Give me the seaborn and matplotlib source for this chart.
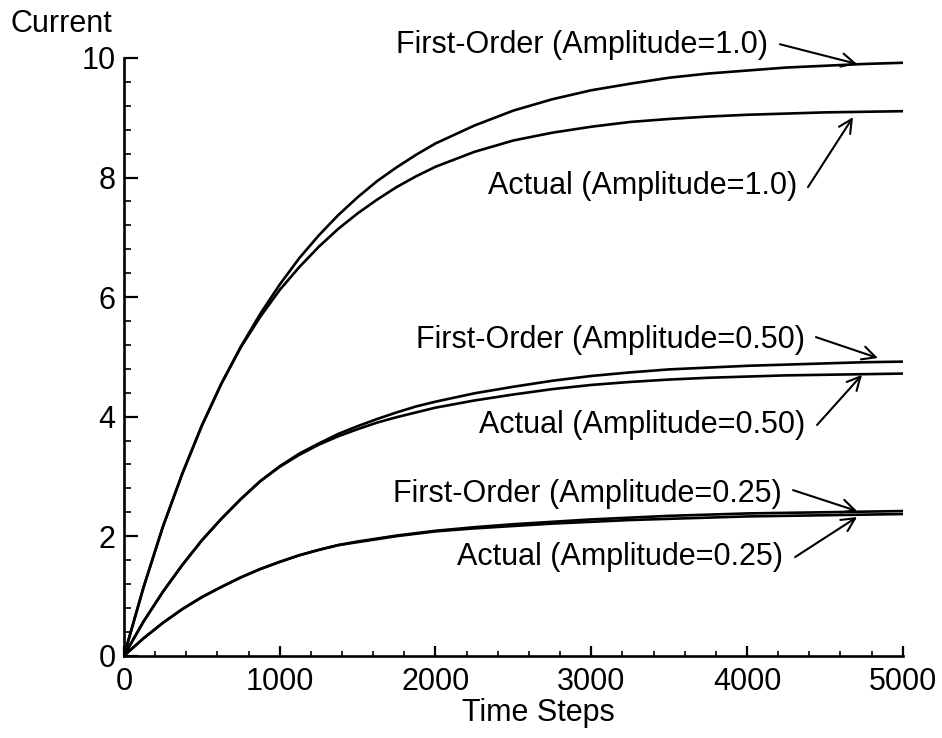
import numpy as np
import pandas as pd
import matplotlib
matplotlib.use("Agg")
import matplotlib.pyplot as plt
from matplotlib.ticker import MultipleLocator
import seaborn as sns

# Time axis and current responses for three drive amplitudes
time_steps = [0, 125, 250, 375, 500, 625, 750, 875, 1000, 1125, 1250, 1375,
              1500, 1625, 1750, 1875, 2000, 2250, 2500, 2750, 3000, 3250,
              3500, 3750, 4000, 4250, 4500, 4750, 5000]

first_order_100 = [0, 1.14, 2.16, 3.05, 3.85, 4.55, 5.17, 5.72, 6.21, 6.65,
                   7.03, 7.37, 7.67, 7.94, 8.17, 8.38, 8.57, 8.87, 9.12, 9.31,
                   9.46, 9.57, 9.67, 9.74, 9.79, 9.84, 9.87, 9.90, 9.92]
actual_100 = [0, 1.14, 2.16, 3.05, 3.85, 4.55, 5.16, 5.67, 6.12, 6.50,
              6.84, 7.14, 7.40, 7.63, 7.84, 8.02, 8.18, 8.43, 8.62, 8.75,
              8.85, 8.93, 8.98, 9.02, 9.05, 9.07, 9.09, 9.10, 9.11]
first_order_050 = [0, 0.57, 1.07, 1.52, 1.93, 2.29, 2.62, 2.92, 3.17, 3.38,
                   3.55, 3.71, 3.84, 3.96, 4.07, 4.17, 4.25, 4.39, 4.50, 4.60,
                   4.68, 4.74, 4.79, 4.82, 4.85, 4.87, 4.89, 4.91, 4.92]
actual_050 = [0, 0.57, 1.07, 1.52, 1.93, 2.29, 2.62, 2.92, 3.16, 3.36,
              3.53, 3.67, 3.79, 3.90, 3.99, 4.07, 4.15, 4.27, 4.37, 4.46,
              4.53, 4.58, 4.62, 4.65, 4.67, 4.69, 4.70, 4.71, 4.72]
first_order_025 = [0, 0.29, 0.55, 0.78, 0.98, 1.15, 1.31, 1.45, 1.57, 1.68,
                   1.77, 1.85, 1.91, 1.96, 2.01, 2.05, 2.09, 2.15, 2.20, 2.24,
                   2.28, 2.31, 2.34, 2.36, 2.38, 2.39, 2.40, 2.41, 2.42]
actual_025 = [0, 0.29, 0.55, 0.78, 0.98, 1.15, 1.31, 1.45, 1.57, 1.68,
              1.77, 1.85, 1.90, 1.95, 2.00, 2.04, 2.08, 2.13, 2.17, 2.21,
              2.24, 2.27, 2.29, 2.31, 2.33, 2.34, 2.35, 2.36, 2.37]

series_names = ["First-Order (Amplitude=1.0)", "Actual (Amplitude=1.0)",
                "First-Order (Amplitude=0.50)", "Actual (Amplitude=0.50)",
                "First-Order (Amplitude=0.25)", "Actual (Amplitude=0.25)"]
series_values = [first_order_100, actual_100, first_order_050, actual_050,
                 first_order_025, actual_025]

# Label placement: (text right edge x, text y, arrow tail, arrow head)
label_specs = [
    ((4135, 10.22), (4212, 10.23), (4707, 9.90)),
    ((4321, 7.86), (4392, 7.84), (4681, 9.01)),
    ((4373, 5.28), (4443, 5.33), (4841, 4.98)),
    ((4373, 3.86), (4450, 3.86), (4739, 4.70)),
    ((4225, 2.70), (4296, 2.77), (4707, 2.42)),
    ((4231, 1.65), (4309, 1.65), (4707, 2.32)),
]

x_ticks = [0, 1000, 2000, 3000, 4000, 5000]
y_ticks = [0, 2, 4, 6, 8, 10]

df = pd.concat(
    [pd.DataFrame({"Time Steps": time_steps, "Current": vals, "curve": name})
     for name, vals in zip(series_names, series_values)],
    ignore_index=True,
)

sns.set_theme(style="ticks")
plt.rcParams["font.family"] = ["Liberation Sans", "DejaVu Sans"]

fig = plt.figure(figsize=(9.42, 7.38), dpi=100)
ax = fig.add_axes([0.13163, 0.11152, 0.82665, 0.80989])

for name in series_names:
    sub = df[df["curve"] == name]
    sns.lineplot(data=sub, x="Time Steps", y="Current", ax=ax, color="black",
                 linewidth=1.9, sort=False, estimator=None, legend=False)

for name, (txt_pos, tail, head) in zip(series_names, label_specs):
    ax.text(txt_pos[0], txt_pos[1], name, ha="right", va="center",
            fontsize=22, color="black")
    ax.annotate("", xy=head, xytext=tail,
                arrowprops=dict(arrowstyle="->", color="black", lw=1.5,
                                mutation_scale=24, shrinkA=0, shrinkB=0))

ax.set_xlim(0, 5000)
ax.set_ylim(0, 10)
ax.set_xticks(x_ticks)
ax.set_yticks(y_ticks)
ax.xaxis.set_minor_locator(MultipleLocator(200))
ax.yaxis.set_minor_locator(MultipleLocator(0.4))

sns.despine(ax=ax)
for side in ("left", "bottom"):
    ax.spines[side].set_linewidth(1.9)
    ax.spines[side].set_color("black")

ax.tick_params(axis="y", which="major", direction="in", length=10, width=1.6,
               labelsize=22, pad=6, colors="black")
ax.tick_params(axis="y", which="minor", direction="in", length=5, width=1.4)
ax.tick_params(axis="x", which="major", direction="in", length=7.5, width=1.6,
               labelsize=22, pad=8, colors="black")
ax.tick_params(axis="x", which="minor", direction="in", length=3.5, width=1.4)

ax.set_xlabel("Time Steps", fontsize=22, color="black", va="top")
ax.xaxis.set_label_coords(0.5317, -0.071)
ax.set_ylabel("Current", fontsize=22, color="black", rotation=0,
              ha="center", va="center")
ax.yaxis.set_label_coords(-0.0809, 1.0569)

fig.savefig("out.png", dpi=100)
